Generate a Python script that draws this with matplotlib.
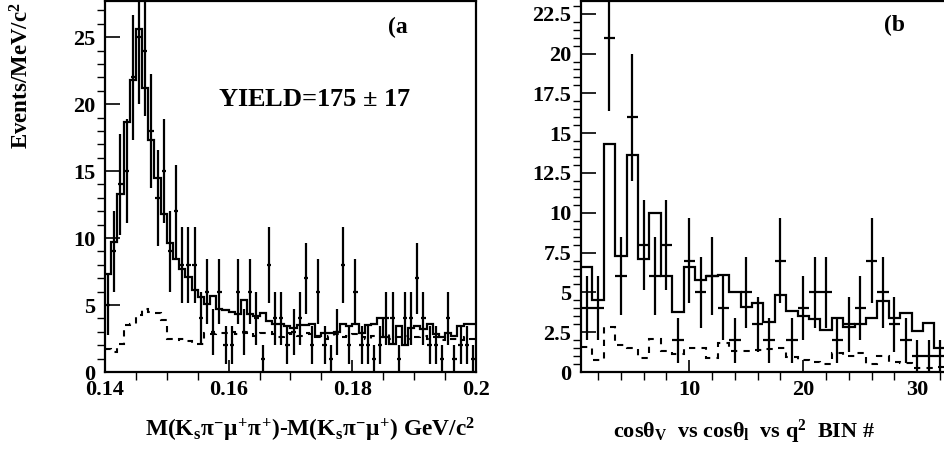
import numpy as np
import matplotlib
matplotlib.use("Agg")
import matplotlib.pyplot as plt
from matplotlib.ticker import MultipleLocator, FixedLocator, FuncFormatter

plt.rcParams['font.family'] = 'Liberation Serif'
plt.rcParams['font.weight'] = 'bold'
plt.rcParams['mathtext.fontset'] = 'custom'
plt.rcParams['mathtext.rm'] = 'Liberation Serif:bold'
plt.rcParams['mathtext.it'] = 'Liberation Serif:bold'
plt.rcParams['mathtext.bf'] = 'Liberation Serif:bold'

# ---- panel (a): delta-mass, 60 bins of 1 MeV from 0.14 to 0.2 ----
mass_range = (0.14, 0.2)
mass_data = [5, 9, 14, 15, 22, 25, 24, 18, 13, 15,
             9, 12, 8, 8, 8, 4, 6, 3, 6, 2,
             2, 6, 3, 6, 4, 1, 8, 4, 4, 2,
             3, 4, 7, 2, 6, 2, 1, 3, 8, 2,
             6, 2, 2, 1, 2, 4, 4, 1, 4, 4,
             7, 4, 2, 2, 1, 4, 1, 2, 2, 1]
mass_fit = [7.3, 9.7, 13.3, 18.7, 21.8, 25.6, 21.2, 17.3, 14.5, 11.8,
            9.6, 8.4, 7.7, 7.1, 6.1, 5.6, 5.1, 5.7, 4.7, 4.6,
            4.5, 4.3, 5.4, 4.3, 4.2, 4.4, 3.8, 3.6, 3.6, 3.4,
            3.3, 3.5, 3.5, 3.6, 2.7, 2.9, 2.9, 3.0, 3.6, 3.4,
            3.6, 2.9, 3.5, 3.6, 4.0, 2.6, 2.1, 3.4, 2.0, 3.3,
            3.4, 3.2, 3.6, 2.8, 2.6, 2.9, 2.7, 3.4, 3.6, 3.6]
mass_bkg = [1.7, 1.5, 2.1, 3.5, 3.6, 4.25, 4.7, 4.5, 4.4, 3.9,
            2.5, 2.4, 2.5, 2.3, 2.1, 2.1, 2.9, 2.8, 2.9, 2.9,
            3.0, 2.8, 2.9, 3.0, 2.7, 2.9, 3.0, 2.8, 2.6, 2.9,
            2.8, 2.7, 2.9, 2.8, 2.6, 2.5, 2.7, 2.8, 2.6, 2.7,
            2.8, 2.6, 2.5, 2.7, 2.6, 2.8, 2.5, 2.6, 2.7, 2.5,
            2.6, 2.7, 2.5, 2.6, 2.4, 2.6, 2.5, 2.4, 2.6, 2.5]
mass_ticks = [0.14, 0.16, 0.18, 0.2]
mass_ticklabels = ['0.14', '0.16', '0.18', '0.2']

# ---- panel (b): angular/q2 bin number, bins centred on 1..33 ----
bin_range = (0.5, 33.5)
bin_data = [4, 4, 21, 6, 16, 8, 6, 8, 2, 7,
            5, 6, 4, 2, 5, 3, 2, 7, 2, 4,
            5, 5, 2, 3, 4, 7, 5, 3, 2, 1,
            1, 1, 1]
bin_fit = [6.6, 4.5, 14.3, 7.3, 13.6, 7.1, 10.0, 6.0, 3.75, 6.6,
           5.8, 6.0, 6.1, 5.05, 4.1, 4.35, 3.15, 4.85, 3.8, 3.5,
           3.3, 2.65, 3.4, 2.85, 3.0, 3.4, 4.45, 3.4, 3.7, 2.6,
           3.1, 1.5, 1.5]
bin_bkg = [1.6, 0.75, 2.8, 1.7, 1.5, 0.9, 2.1, 1.3, 1.1, 1.5,
           1.5, 0.85, 1.8, 1.3, 1.3, 1.4, 1.45, 1.5, 0.95, 0.75,
           0.65, 0.5, 1.2, 1.0, 1.2, 0.5, 1.0, 0.65, 0.55, 0.25,
           0.25, 0.3, 0.3]
bin_ticks = [10, 20, 30]


def draw_panel(ax, rng, data, fit, bkg, xerr_frac):
    n = len(data)
    edges = np.linspace(rng[0], rng[1], n + 1)
    centers = 0.5 * (edges[1:] + edges[:-1])
    w = edges[1] - edges[0]
    data = np.array(data, dtype=float)
    ax.stairs(fit, edges, color='black', lw=1.6, baseline=None)
    ax.stairs(bkg, edges, color='black', lw=1.5, ls=(0, (3, 3)), baseline=None)
    ax.errorbar(centers, data, yerr=np.sqrt(data), xerr=w * xerr_frac,
                fmt='none', ecolor='black', elinewidth=1.6, capsize=0)
    ax.set_xlim(rng)
    for s in ['left', 'bottom', 'top', 'right']:
        ax.spines[s].set_linewidth(1.6)
    ax.tick_params(direction='in', labelsize=16, width=1.2)
    ax.tick_params(axis='y', which='major', length=11, pad=7)
    ax.tick_params(axis='y', which='minor', length=6, width=1.0)
    ax.tick_params(axis='x', which='major', length=9, pad=6)
    ax.tick_params(axis='x', which='minor', length=6, width=1.0)


fig = plt.figure(figsize=(9.45, 4.55), dpi=100)

ax1 = fig.add_axes([105 / 945, 83 / 455, 371 / 945, 371 / 455])
draw_panel(ax1, mass_range, mass_data, mass_fit, mass_bkg, 0.35)
ax1.set_ylim(0, 27.7)
ax1.xaxis.set_major_locator(FixedLocator(mass_ticks))
ax1.set_xticklabels(mass_ticklabels)
ax1.xaxis.set_minor_locator(MultipleLocator(0.005))
ax1.yaxis.set_major_locator(MultipleLocator(5))
ax1.yaxis.set_minor_locator(MultipleLocator(1))
ax1.text(0.763, 0.93, '(a', transform=ax1.transAxes, fontsize=17, va='center')
ax1.text(0.305, 0.735, 'YIELD=175 $\\pm$ 17', transform=ax1.transAxes,
         fontsize=19, va='center')

ax2 = fig.add_axes([581 / 945, 83 / 455, 376.2 / 945, 371 / 455])
draw_panel(ax2, bin_range, bin_data, bin_fit, bin_bkg, 0.5)
ax2.set_ylim(0, 23.3)
ax2.xaxis.set_major_locator(FixedLocator(bin_ticks))
ax2.xaxis.set_minor_locator(MultipleLocator(2))
ax2.yaxis.set_major_locator(MultipleLocator(2.5))
ax2.yaxis.set_minor_locator(MultipleLocator(0.5))
ax2.yaxis.set_major_formatter(FuncFormatter(lambda v, p: '%g' % v))
ax2.text(0.805, 0.935, '(b', transform=ax2.transAxes, fontsize=17, va='center')

fig.text(22 / 945, 1 - 2 / 455, 'Events/MeV/c$^2$', rotation=90,
         ha='center', va='top', fontsize=16.5)
fig.text(310 / 945, 1 - 430 / 455,
         r'M(K$_\mathrm{s}\pi^{-}\mu^{+}\pi^{+}$)-M(K$_\mathrm{s}\pi^{-}\mu^{+}$) GeV/c$^2$',
         ha='center', va='center', fontsize=16.8)
fig.text(744 / 945, 1 - 432 / 455,
         r'cos$\theta_\mathrm{V}$  vs cos$\theta_\mathrm{l}$  vs q$^2$  BIN #',
         ha='center', va='center', fontsize=16)

fig.savefig('out.png', dpi=100)
